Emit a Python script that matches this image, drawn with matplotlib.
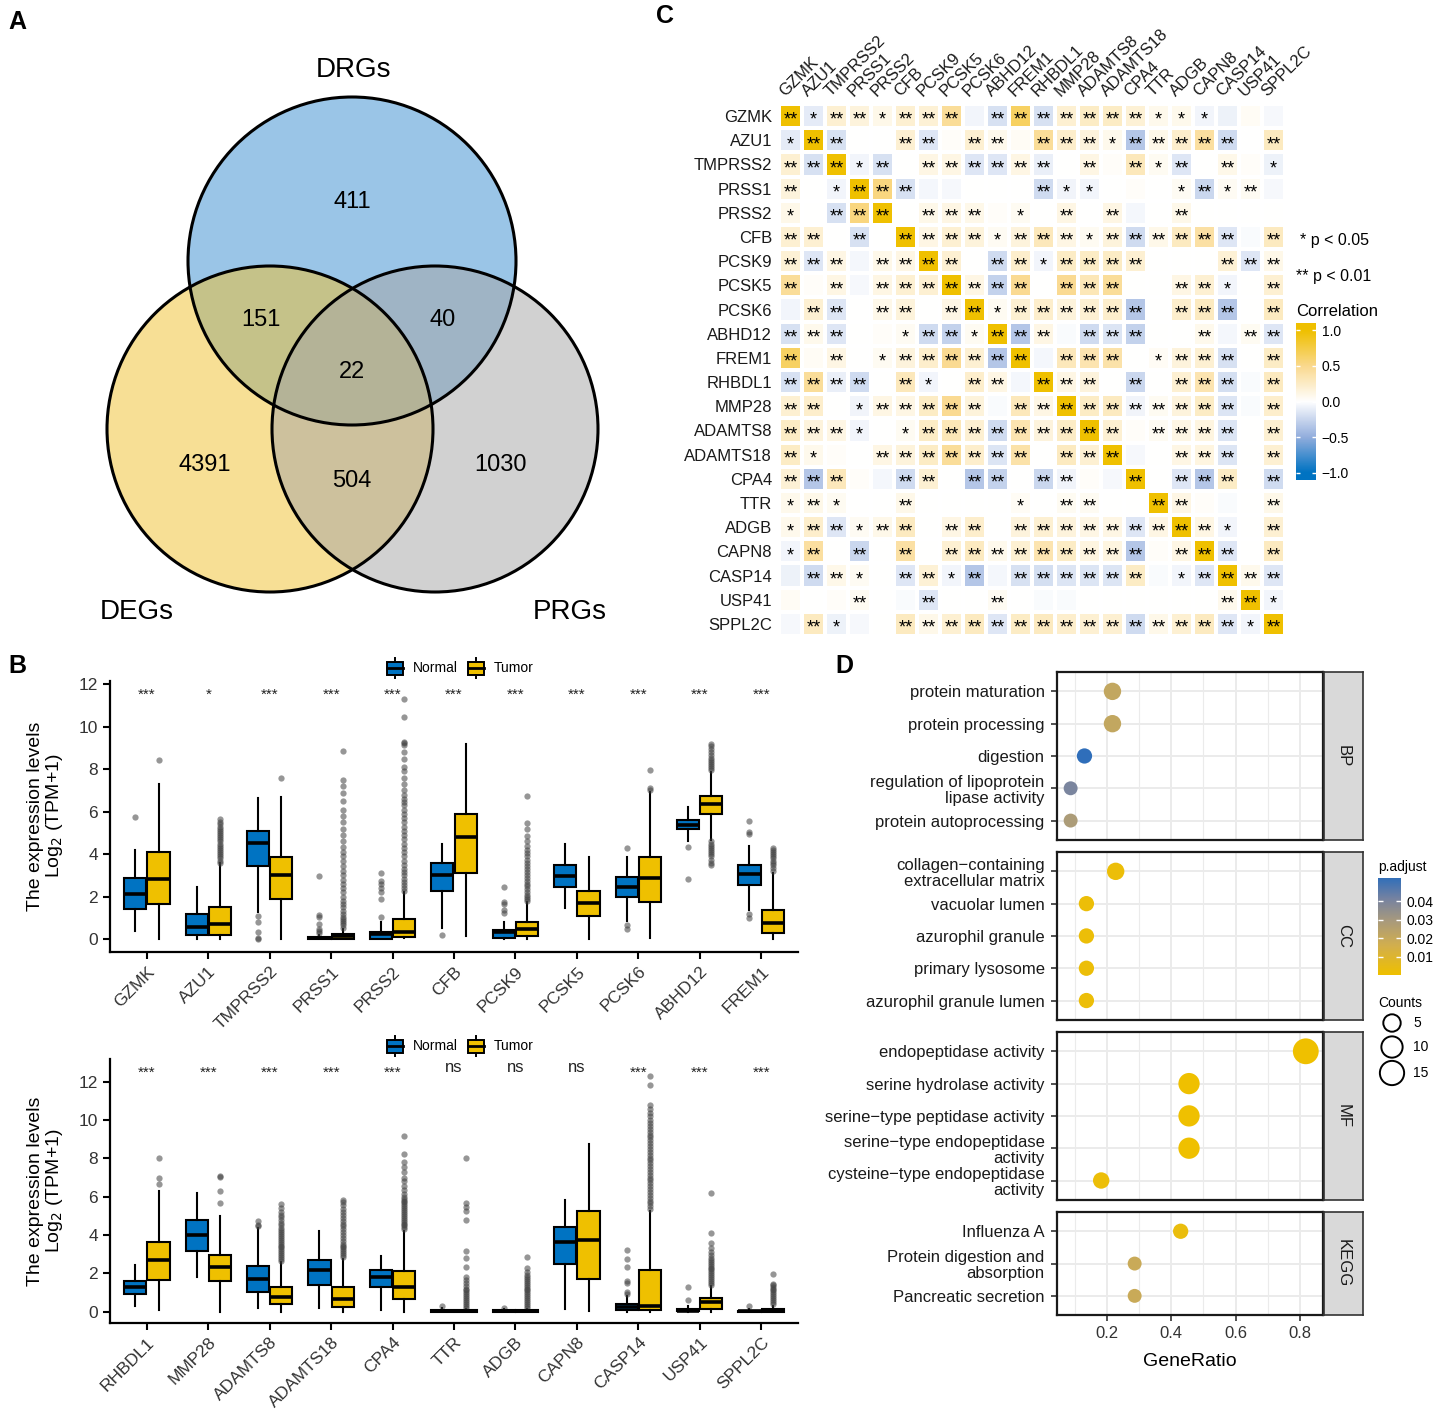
import numpy as np
import matplotlib
matplotlib.use('Agg')
import matplotlib.pyplot as plt
from matplotlib.patches import Circle, Rectangle
from matplotlib.colors import LinearSegmentedColormap, Normalize

plt.rcParams['font.family'] = ['Liberation Sans', 'DejaVu Sans']

W, H = 1441, 1412
fig = plt.figure(figsize=(W / 100, H / 100), dpi=100)

BLUE = '#0073C2'
YELLOW = '#EFC000'


def px_axes(l, t, r, b):
    # axes placed with pixel edges (left, top, right, bottom)
    return fig.add_axes([l / W, 1 - b / H, (r - l) / W, (b - t) / H])


# ---------------- data ----------------
venn_names = ['DRGs', 'DEGs', 'PRGs']
venn_counts = {'100': 411, '010': 4391, '001': 1030,
               '110': 151, '101': 40, '011': 504, '111': 22}

genes = ['GZMK', 'AZU1', 'TMPRSS2', 'PRSS1', 'PRSS2', 'CFB', 'PCSK9', 'PCSK5',
         'PCSK6', 'ABHD12', 'FREM1', 'RHBDL1', 'MMP28', 'ADAMTS8', 'ADAMTS18',
         'CPA4', 'TTR', 'ADGB', 'CAPN8', 'CASP14', 'USP41', 'SPPL2C']

# upper triangle of the correlation matrix, row i holds columns i+1..21
corr_upper = [
    [-0.12, 0.2, 0.15, 0.1, 0.2, 0.18, 0.45, -0.06, -0.18, 0.65, -0.18, 0.2, 0.25, 0.25, 0.18, 0.08, 0.08, -0.06, -0.08, 0.04, -0.04],
    [-0.18, 0.0, 0.0, 0.2, -0.15, 0.03, 0.2, 0.08, 0.04, 0.45, 0.22, 0.15, 0.08, -0.35, 0.1, 0.22, 0.42, -0.22, 0.0, 0.28],
    [-0.06, -0.18, 0.0, 0.12, 0.12, -0.15, -0.15, 0.12, -0.1, 0.0, 0.12, 0.03, 0.3, 0.06, -0.15, 0.0, 0.1, 0.03, -0.08],
    [0.55, -0.18, -0.05, -0.04, 0.0, 0.0, 0.0, -0.22, -0.07, -0.06, 0.0, 0.03, 0.0, 0.05, -0.25, 0.05, 0.06, -0.04],
    [0.0, 0.1, 0.12, 0.1, 0.03, 0.06, 0.0, 0.12, 0.0, 0.12, -0.05, 0.0, 0.1, 0.0, 0.0, 0.0, 0.0],
    [0.12, 0.2, 0.16, 0.05, 0.15, 0.3, 0.12, 0.06, 0.16, -0.22, 0.1, 0.28, 0.4, -0.15, -0.03, 0.28],
    [0.2, 0.0, -0.22, 0.22, -0.06, 0.25, 0.25, 0.25, 0.2, 0.0, 0.0, 0.0, 0.18, -0.15, 0.1],
    [0.12, -0.28, 0.48, 0.0, 0.48, 0.32, 0.45, 0.0, 0.0, 0.12, 0.2, -0.06, 0.0, 0.2],
    [0.06, 0.2, 0.22, 0.16, 0.2, 0.22, -0.35, 0.0, 0.22, 0.28, -0.35, 0.0, 0.28],
    [-0.35, 0.12, -0.03, -0.22, -0.16, -0.28, 0.0, 0.0, 0.08, -0.05, 0.06, -0.15],
    [-0.05, 0.3, 0.35, 0.38, 0.0, 0.04, 0.15, 0.2, -0.18, 0.0, 0.25],
    [0.12, 0.15, 0.0, -0.25, 0.0, 0.2, 0.35, -0.2, -0.03, 0.28],
    [0.25, 0.28, -0.07, 0.06, 0.15, 0.25, -0.16, -0.03, 0.22],
    [0.2, 0.03, 0.06, 0.12, 0.14, -0.16, 0.0, 0.2],
    [-0.04, 0.0, 0.12, 0.14, -0.16, 0.0, 0.2],
    [0.0, -0.15, -0.35, 0.25, 0.0, -0.22],
    [0.12, 0.03, -0.03, 0.0, 0.1],
    [0.12, -0.06, 0.0, 0.2],
    [-0.15, 0.0, 0.28],
    [0.08, -0.15],
    [-0.06],
]

# significance per cell: 0 none, 1 '*', 2 '**'
corr_stars = [
    '2122122202222222111000',
    '1220022022022212222202',
    '2221202222220202120201',
    '2012220000021100012120',
    '1022202220102020020000',
    '2202022221222122222202',
    '2220222202212222000222',
    '2020222222202220022102',
    '0220220221222222022202',
    '2220012212220222002022',
    '2020122222202220122202',
    '2222021022022202022202',
    '2201222220222222222202',
    '2221012222222220222202',
    '2100222222202220022202',
    '2220022022022002022202',
    '1210020000102200220002',
    '1221220220222222222102',
    '1202020222222222022202',
    '0221022120222222012222',
    '0002002002000000000221',
    '0210022222222222222212',
]

# boxplots: [whislo, q1, median, q3, whishi]
top_genes = ['GZMK', 'AZU1', 'TMPRSS2', 'PRSS1', 'PRSS2', 'CFB', 'PCSK9',
             'PCSK5', 'PCSK6', 'ABHD12', 'FREM1']
top_sig = ['***', '*', '***', '***', '***', '***', '***', '***', '***', '***', '***']
top_normal = [
    [0.4, 1.43, 2.15, 2.87, 4.2], [0.0, 0.2, 0.58, 1.18, 2.48],
    [1.3, 3.46, 4.51, 5.09, 6.66], [0.0, 0.0, 0.05, 0.1, 0.2],
    [0.0, 0.03, 0.27, 0.33, 0.8], [0.55, 2.27, 3.03, 3.57, 4.47],
    [0.0, 0.08, 0.33, 0.42, 0.83], [1.46, 2.45, 2.98, 3.5, 4.48],
    [0.86, 2.0, 2.48, 2.95, 3.86], [4.64, 5.17, 5.38, 5.61, 6.24],
    [1.38, 2.55, 3.07, 3.5, 4.4]]
top_tumor = [
    [0.0, 1.65, 2.82, 4.09, 7.29], [0.0, 0.2, 0.7, 1.54, 3.57],
    [0.0, 1.91, 3.0, 3.89, 6.7], [0.0, 0.02, 0.13, 0.27, 0.5],
    [0.05, 0.12, 0.35, 0.93, 2.2], [0.16, 3.12, 4.81, 5.88, 9.17],
    [0.0, 0.13, 0.49, 0.83, 1.75], [0.0, 1.11, 1.69, 2.26, 3.89],
    [0.08, 1.77, 2.9, 3.86, 6.94], [4.67, 5.89, 6.35, 6.72, 7.88],
    [0.0, 0.31, 0.75, 1.38, 3.1]]
top_normal_out = [
    [5.77], [], [1.1, 0.83, 0.33, 0.05, 0.0],
    [0.3, 0.4, 0.5, 0.72, 1.05, 1.15, 2.97],
    [1.05, 1.9, 2.2, 2.4, 2.6, 2.75, 3.1], [0.2],
    [1.22, 1.38, 1.65, 1.74, 2.48], [], [4.31, 0.67, 0.49], [4.34, 2.82],
    [5.58, 5.06, 4.95, 1.18, 0.99]]
top_tumor_out = [
    [8.43],
    [3.6, 3.7, 3.8, 3.9, 4.0, 4.1, 4.2, 4.3, 4.4, 4.5, 4.6, 4.7, 4.8, 4.9, 5.0,
     5.1, 5.2, 5.3, 5.4, 5.5, 5.65],
    [7.6],
    [0.55, 0.65, 0.75, 0.85, 0.95, 1.05, 1.2, 1.35, 1.5, 1.65, 1.8, 2.0, 2.2,
     2.4, 2.6, 2.8, 3.0, 3.2, 3.45, 3.7, 3.9, 4.1, 4.35, 4.6, 4.9, 5.2, 5.5,
     5.8, 6.1, 6.5, 6.9, 7.2, 7.5, 8.87],
    [2.25, 2.4, 2.55, 2.7, 2.85, 3.0, 3.15, 3.3, 3.5, 3.7, 3.9, 4.1, 4.3, 4.5,
     4.7, 4.9, 5.1, 5.3, 5.5, 5.7, 5.9, 6.1, 6.3, 6.45, 6.6, 6.8, 7.0, 7.3,
     7.6, 7.9, 8.1, 8.5, 8.8, 9.15, 9.25, 9.3, 10.46, 11.3],
    [],
    [1.8, 1.9, 2.0, 2.1, 2.2, 2.35, 2.5, 2.6, 2.75, 2.9, 3.0, 3.15, 3.3, 3.45,
     3.6, 3.75, 3.9, 4.05, 4.2, 4.4, 4.6, 4.85, 5.2, 5.45, 6.74],
    [],
    [7.02, 7.13, 7.96],
    [7.95, 8.05, 8.15, 8.25, 8.35, 8.45, 8.55, 8.65, 8.8, 8.95, 9.1, 9.2,
     4.6, 4.5, 4.4, 4.3, 4.2, 4.1, 4.0, 3.9, 3.75, 3.6, 3.5],
    [3.2, 3.35, 3.5, 3.6, 3.7, 3.8, 3.9, 4.0, 4.1, 4.2, 4.3]]

bot_genes = ['RHBDL1', 'MMP28', 'ADAMTS8', 'ADAMTS18', 'CPA4', 'TTR', 'ADGB',
             'CAPN8', 'CASP14', 'USP41', 'SPPL2C']
bot_sig = ['***', '***', '***', '***', '***', 'ns', 'ns', 'ns', '***', '***', '***']
bot_normal = [
    [0.31, 0.89, 1.29, 1.62, 2.42], [1.81, 3.15, 3.98, 4.8, 6.19],
    [0.19, 1.01, 1.7, 2.4, 4.37], [0.19, 1.41, 2.16, 2.71, 4.19],
    [0.1, 1.27, 1.81, 2.16, 2.92], [0.0, 0.0, 0.04, 0.1, 0.2],
    [0.0, 0.0, 0.02, 0.06, 0.12], [0.14, 2.5, 3.65, 4.42, 5.81],
    [0.0, 0.07, 0.24, 0.37, 0.8], [0.0, 0.02, 0.05, 0.13, 0.3],
    [0.0, 0.0, 0.02, 0.05, 0.12]]
bot_tumor = [
    [0.1, 1.63, 2.68, 3.63, 6.31], [0.0, 1.58, 2.31, 2.97, 4.97],
    [0.0, 0.37, 0.75, 1.27, 2.57], [0.0, 0.24, 0.66, 1.27, 2.75],
    [0.0, 0.68, 1.27, 2.1, 4.19], [0.0, 0.0, 0.03, 0.1, 0.15],
    [0.0, 0.0, 0.03, 0.1, 0.15], [0.05, 1.7, 3.76, 5.23, 8.77],
    [0.0, 0.07, 0.28, 2.19, 5.23], [0.0, 0.14, 0.49, 0.7, 1.32],
    [0.0, 0.0, 0.05, 0.15, 0.3]]
bot_normal_out = [
    [], [], [4.71, 4.54, 4.45], [], [], [0.3], [0.2], [],
    [0.9, 1.0, 1.5, 1.6, 2.31, 2.75, 3.23], [0.6, 1.27], [0.3]]
bot_tumor_out = [
    [8.02, 7.0, 6.68],
    [7.11, 7.03, 6.31, 5.69],
    [2.65, 2.75, 2.85, 2.95, 3.05, 3.15, 3.25, 3.35, 3.45, 3.55, 3.65, 3.75,
     3.85, 3.95, 4.05, 4.15, 4.25, 4.35, 4.5, 4.65, 4.8, 4.95, 5.05, 5.2, 5.4, 5.6],
    [2.85, 2.95, 3.05, 3.15, 3.25, 3.35, 3.45, 3.55, 3.7, 3.85, 4.0, 4.15, 4.3,
     4.45, 4.6, 4.75, 4.9, 5.05, 5.2, 5.35, 5.55, 5.7, 5.85],
    [4.3, 4.4, 4.5, 4.6, 4.7, 4.8, 4.9, 5.0, 5.1, 5.2, 5.3, 5.4, 5.5, 5.6, 5.7,
     5.8, 5.9, 6.0, 6.15, 6.35, 6.55, 6.8, 7.0, 7.3, 7.55, 7.79, 8.24, 9.15],
    [0.2, 0.3, 0.4, 0.5, 0.6, 0.7, 0.8, 0.9, 1.0, 1.1, 1.2, 1.35, 1.5, 1.65,
     1.81, 2.35, 2.8, 3.15, 4.8, 5.25, 5.45, 5.65, 8.02],
    [0.2, 0.3, 0.4, 0.5, 0.6, 0.7, 0.8, 0.9, 1.0, 1.1, 1.2, 1.3, 1.4, 1.5, 1.6,
     1.7, 1.8, 1.9, 2.05, 2.3, 2.83],
    [],
    [5.35, 5.5, 5.65, 5.8, 5.95, 6.1, 6.25, 6.4, 6.55, 6.7, 6.85, 7.0, 7.15,
     7.3, 7.45, 7.6, 7.75, 7.9, 8.05, 8.2, 8.35, 8.5, 8.65, 8.8, 8.95, 9.1,
     9.25, 9.4, 9.55, 9.7, 9.85, 10.0, 10.2, 10.4, 10.6, 10.8, 11.84, 12.31],
    [1.4, 1.5, 1.6, 1.7, 1.8, 1.9, 2.0, 2.1, 2.2, 2.3, 2.4, 2.5, 2.6, 2.7, 2.8,
     2.95, 3.1, 3.3, 3.6, 4.1, 6.19],
    [0.4, 0.5, 0.6, 0.7, 0.8, 0.9, 1.0, 1.1, 1.2, 1.3, 1.4, 1.46, 1.97]]

# enrichment
facet_names = ['BP', 'CC', 'MF', 'KEGG']
facet_terms = [
    ['protein maturation', 'protein processing', 'digestion',
     'regulation of lipoprotein\nlipase activity', 'protein autoprocessing'],
    ['collagen\u2212containing\nextracellular matrix', 'vacuolar lumen',
     'azurophil granule', 'primary lysosome', 'azurophil granule lumen'],
    ['endopeptidase activity', 'serine hydrolase activity',
     'serine\u2212type peptidase activity',
     'serine\u2212type endopeptidase\nactivity',
     'cysteine\u2212type endopeptidase\nactivity'],
    ['Influenza A', 'Protein digestion and\nabsorption', 'Pancreatic secretion']]
facet_ratio = [[0.217, 0.217, 0.130, 0.087, 0.087],
               [0.227, 0.136, 0.136, 0.136, 0.136],
               [0.818, 0.455, 0.455, 0.455, 0.182],
               [0.429, 0.286, 0.286]]
facet_count = [[5, 5, 3, 2, 2], [5, 3, 3, 3, 3], [18, 10, 10, 10, 4], [3, 2, 2]]
facet_padj = [[0.021, 0.021, 0.0525, 0.040, 0.028],
              [0.002, 0.002, 0.002, 0.002, 0.002],
              [0.0005, 0.0005, 0.0005, 0.0005, 0.002],
              [0.003, 0.019, 0.019]]

# ---------------- overlay for free drawing ----------------
ov = fig.add_axes([0, 0, 1, 1])
ov.set_xlim(0, W)
ov.set_ylim(H, 0)
ov.axis('off')
ov.set_zorder(10)
ov.patch.set_visible(False)

for lab, x, y in [('A', 8, 22), ('B', 8, 666), ('C', 656, 16), ('D', 835, 666)]:
    ov.text(x, y, lab, fontsize=18, fontweight='bold', va='center', ha='left')

# ---------------- A: Venn ----------------
venn_circles = [((352, 261), 164, '#378DD1'),
                ((270, 429), 163, '#F1C12D'),
                ((435, 429), 163, '#A5A5A5')]
for (c, r, col) in venn_circles:
    ov.add_patch(Circle(c, r, facecolor=col, alpha=0.5, edgecolor='none'))
for (c, r, col) in venn_circles:
    ov.add_patch(Circle(c, r, fill=False, edgecolor='black', lw=2.2))
for name, (x, y) in zip(venn_names, [(353, 70), (137, 612), (570, 612)]):
    ov.text(x, y, name, fontsize=20, ha='center', va='center')
venn_pos = {'100': (352, 202), '010': (205, 465), '001': (500, 465),
            '110': (261, 320), '101': (443, 320), '011': (352, 481), '111': (352, 372)}
for key, n in venn_counts.items():
    x, y = venn_pos[key]
    ov.text(x, y, str(n), fontsize=17, ha='center', va='center')

# ---------------- C: correlation heatmap ----------------
n = len(genes)
corr = np.eye(n)
for i, row in enumerate(corr_upper):
    for k, v in enumerate(row):
        j = i + 1 + k
        corr[i, j] = corr[j, i] = v

# stops roughly follow a Lab-space blend (softer, lavender-ish blues)
ccmap = LinearSegmentedColormap.from_list(
    'corr', [(0, BLUE), (0.25, '#93AEDD'), (0.5, '#FFFFFF'), (0.75, '#FAD98E'), (1, YELLOW)])
cnorm = Normalize(-1, 1)
axc = px_axes(779, 104, 1285, 636)
axc.pcolormesh(np.arange(n + 1), np.arange(n + 1), corr, cmap=ccmap, norm=cnorm,
               edgecolors='white', linewidth=1.6)
axc.set_xlim(0, n)
axc.set_ylim(n, 0)
for s in axc.spines.values():
    s.set_visible(False)
axc.set_xticks([])
axc.set_yticks(np.arange(n) + 0.5)
axc.set_yticklabels(genes, fontsize=12, color='#1a1a1a')
axc.tick_params(axis='y', length=0, pad=5)
for i in range(n):
    for j in range(n):
        k = int(corr_stars[i][j])
        if k:
            axc.text(j + 0.5, i + 0.68, '*' * k, ha='center', va='center', fontsize=13)
for j, g in enumerate(genes):
    axc.text(j + 0.25, -0.3, g, rotation=45, rotation_mode='anchor', ha='left',
             va='baseline', fontsize=12, color='#1a1a1a')

ov.text(1300, 240, '* p < 0.05', fontsize=11.5, va='center')
ov.text(1296, 277, '** p < 0.01', fontsize=11.5, va='center')
ov.text(1296, 312, 'Correlation', fontsize=12, va='center')
cax = px_axes(1296, 323, 1316, 480)
cax.imshow(np.linspace(1.1, -1.1, 200)[:, None], aspect='auto', cmap=ccmap,
           norm=cnorm, extent=(0, 1, -1.1, 1.1))
cax.set_xlim(0, 1)
cax.set_ylim(-1.1, 1.1)
cticks = [-1.0, -0.5, 0.0, 0.5, 1.0]
cax.hlines(cticks, 0, 0.2, color='white', lw=1)
cax.hlines(cticks, 0.8, 1, color='white', lw=1)
cax.set_xticks([])
cax.yaxis.tick_right()
cax.set_yticks(cticks)
cax.set_yticklabels([f'{t:.1f}'.replace('-', '\u2212') for t in cticks], fontsize=10)
cax.tick_params(axis='y', length=0, pad=4)
for s in cax.spines.values():
    s.set_visible(False)


# ---------------- B: boxplots ----------------
def box_key(x0, yc, color):
    ov.add_patch(Rectangle((x0, yc - 6.5), 16, 13, facecolor=color, edgecolor='black', lw=1.4))
    ov.plot([x0, x0 + 16], [yc, yc], color='black', lw=2)
    ov.plot([x0 + 8, x0 + 8], [yc - 10, yc - 6.5], color='black', lw=1.4)
    ov.plot([x0 + 8, x0 + 8], [yc + 6.5, yc + 10], color='black', lw=1.4)


def draw_boxes(ax, names, nstat, tstat, nout, tout, sig, ylim, sig_y):
    pos = np.arange(1, len(names) + 1)
    for stats, outs, off, col in [(nstat, nout, -0.19, BLUE), (tstat, tout, 0.19, YELLOW)]:
        bx = [dict(whislo=s[0], q1=s[1], med=s[2], q3=s[3], whishi=s[4], fliers=o)
              for s, o in zip(stats, outs)]
        ax.bxp(bx, positions=pos + off, widths=0.36, patch_artist=True,
               showcaps=False, manage_ticks=False,
               boxprops=dict(facecolor=col, edgecolor='black', linewidth=1.5),
               whiskerprops=dict(color='black', linewidth=1.5),
               medianprops=dict(color='black', linewidth=2.6),
               flierprops=dict(marker='o', markerfacecolor='#404040',
                               markeredgecolor='none', markersize=4.5, alpha=0.55))
    for p, s in zip(pos, sig):
        if s == 'ns':
            ax.text(p, sig_y + 0.05, s, ha='center', va='center', fontsize=12, color='#222222')
        else:
            ax.text(p, sig_y - 0.2, s, ha='center', va='center', fontsize=11, color='#222222')
    ax.set_xlim(0.4, len(names) + 0.6)
    ax.set_ylim(*ylim)
    ax.set_yticks(range(0, 13, 2))
    ax.set_xticks(pos)
    ax.set_xticklabels(names, rotation=45, ha='right', rotation_mode='anchor')
    ax.tick_params(axis='both', labelsize=12.5, labelcolor='#333333', width=1.5, length=5)
    ax.spines['top'].set_visible(False)
    ax.spines['right'].set_visible(False)
    ax.spines['left'].set_linewidth(1.6)
    ax.spines['bottom'].set_linewidth(1.6)


axb1 = px_axes(110, 681, 798, 952)
draw_boxes(axb1, top_genes, top_normal, top_tumor, top_normal_out, top_tumor_out,
           top_sig, (-0.6, 12.15), 11.7)
axb2 = px_axes(110, 1059, 798, 1323)
draw_boxes(axb2, bot_genes, bot_normal, bot_tumor, bot_normal_out, bot_tumor_out,
           bot_sig, (-0.6, 13.2), 12.7)

ylab = 'The expression levels\nLog$_2$ (TPM+1)'
for yc in [816, 1191]:
    ov.text(46, yc, ylab, rotation=90, ha='center', va='center', fontsize=14,
            multialignment='center', linespacing=1.05)
for yc in [668, 1046]:
    box_key(387, yc, BLUE)
    ov.text(413, yc, 'Normal', fontsize=10, va='center')
    box_key(468, yc, YELLOW)
    ov.text(494, yc, 'Tumor', fontsize=10, va='center')

# ---------------- D: enrichment dot plot ----------------
pcmap = LinearSegmentedColormap.from_list(
    'padj', [(0, YELLOW), (0.3, '#D2AF4E'), (0.55, '#A99A7C'), (0.78, '#7683A1'), (1.0, '#2F6EBA')])
pnorm = Normalize(0.0003, 0.0525)


def dot_size(c):
    d = 4.2 * np.sqrt(np.asarray(c, dtype=float)) + 8
    return (d * 0.72) ** 2


unit = 32.3
top = 672
for f, name in enumerate(facet_names):
    terms = facet_terms[f]
    k = len(terms)
    h = unit * (k - 1 + 1.2)
    ax = px_axes(1057, top, 1323, top + h)
    ax.scatter(facet_ratio[f], np.arange(k), s=dot_size(facet_count[f]),
               c=facet_padj[f], cmap=pcmap, norm=pnorm, edgecolors='none', zorder=3)
    ax.set_xlim(0.0446, 0.8715)
    ax.set_ylim(k - 1 + 0.6, -0.6)
    ax.set_xticks([0.2, 0.4, 0.6, 0.8])
    ax.set_xticks([0.1, 0.3, 0.5, 0.7], minor=True)
    ax.set_yticks(np.arange(k))
    ax.set_yticklabels(terms, fontsize=12, color='#1a1a1a', linespacing=1.1)
    ax.grid(which='major', color='#EBEBEB', lw=1.4)
    ax.grid(which='minor', axis='x', color='#EBEBEB', lw=0.8)
    ax.set_axisbelow(True)
    ax.tick_params(which='minor', length=0)
    ax.tick_params(axis='y', length=4, width=1.2, pad=5, color='#333333')
    if f == len(facet_names) - 1:
        ax.tick_params(axis='x', length=4, width=1.2, labelsize=12, labelcolor='#333333',
                       color='#333333')
    else:
        ax.tick_params(axis='x', length=0, labelbottom=False)
    for s in ax.spines.values():
        s.set_linewidth(1.6)
        s.set_color('#1a1a1a')
    sax = px_axes(1324, top, 1363, top + h)
    sax.set_facecolor('#D9D9D9')
    sax.set_xticks([])
    sax.set_yticks([])
    for s in sax.spines.values():
        s.set_color('#333333')
        s.set_linewidth(1.2)
    sax.text(0.5, 0.5, name, rotation=-90, ha='center', va='center', fontsize=12,
             color='#1a1a1a', transform=sax.transAxes)
    top += h + 12

ov.text(1190, 1362, 'GeneRatio', fontsize=14, ha='center', va='center')

ov.text(1378, 867, 'p.adjust', fontsize=10, va='center')
pax = px_axes(1378, 878, 1401, 975)
pax.imshow(np.linspace(pnorm.vmax, pnorm.vmin, 200)[:, None], aspect='auto', cmap=pcmap,
           norm=pnorm, extent=(0, 1, pnorm.vmin, pnorm.vmax))
pax.set_xlim(0, 1)
pax.set_ylim(pnorm.vmin, pnorm.vmax)
pticks = [0.01, 0.02, 0.03, 0.04]
pax.hlines(pticks, 0, 0.2, color='white', lw=1)
pax.hlines(pticks, 0.8, 1, color='white', lw=1)
pax.set_xticks([])
pax.yaxis.tick_right()
pax.set_yticks(pticks)
pax.set_yticklabels([f'{t:.2f}' for t in pticks], fontsize=10)
pax.tick_params(axis='y', length=0, pad=4)
for s in pax.spines.values():
    s.set_visible(False)

ov.text(1378, 1003, 'Counts', fontsize=10, va='center')
legend_counts = [5, 10, 15]
legend_y = [1023, 1047, 1073]
ov.scatter([1392] * 3, legend_y, s=dot_size(legend_counts), facecolors='none',
           edgecolors='black', linewidths=1.4)
for c, y in zip(legend_counts, legend_y):
    ov.text(1413, y, str(c), fontsize=10, va='center')

fig.savefig('out.png', dpi=100)
